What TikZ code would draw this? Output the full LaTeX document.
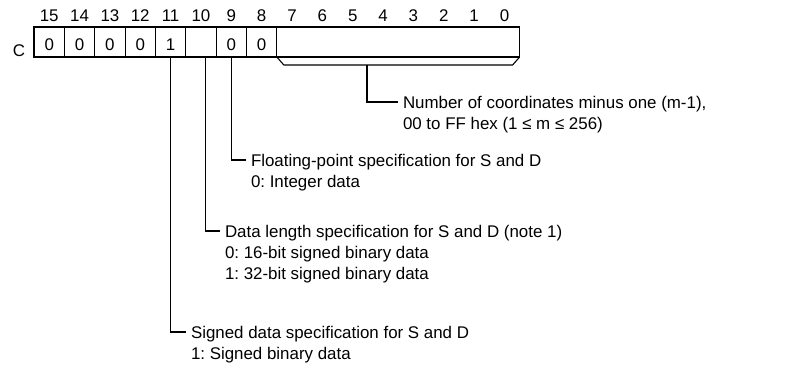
\documentclass[tikz,border=0pt]{standalone}
\usepackage{fontspec}
\setmainfont{Liberation Sans}
\frenchspacing
\usetikzlibrary{positioning}

\begin{document}
\begin{tikzpicture}[x=1pt,y=-1pt,
  every node/.style={font=\fontsize{16.9}{22}\selectfont,inner sep=0pt,outer sep=0pt},
  cell/.style={draw,line width=.9pt,minimum width=30.35pt,minimum height=30pt,text height=16.1pt,text depth=0pt},
  bitno/.style={text height=12.1pt,text depth=0pt},
  lbl/.style={anchor=west,inner xsep=5pt,text height=12.1pt,text depth=0pt},
  lead/.style={line width=1.1pt}]
\useasboundingbox (0,0) rectangle (789,372);
% word C
\node[cell] (b15) at (49.2,42) {0};
\node[cell,right=0pt of b15] (b14) {0};
\node[cell,right=0pt of b14] (b13) {0};
\node[cell,right=0pt of b13] (b12) {0};
\node[cell,right=0pt of b12] (b11) {1};
\node[cell,right=0pt of b11] (b10) {};
\node[cell,right=0pt of b10] (b9) {0};
\node[cell,right=0pt of b9] (b8) {0};
\node[cell,minimum width=242.8pt,right=0pt of b8] (blo) {};
\draw[line width=1.4pt] (b15.north west) rectangle (blo.south east);
\node[bitno,anchor=south east] (rc) at ([xshift=-9pt,yshift=1pt]b15.south west) {C};
% bit numbers
\node[bitno,above=6pt of b15] (n15) {15};
\node[bitno,above=6pt of b14] (n14) {14};
\node[bitno,above=6pt of b13] (n13) {13};
\node[bitno,above=6pt of b12] (n12) {12};
\node[bitno,above=6pt of b11] (n11) {11};
\node[bitno,above=6pt of b10] (n10) {10};
\node[bitno,above=6pt of b9] (n9) {9};
\node[bitno,above=6pt of b8] (n8) {8};
\node[bitno] (n7) at (292,15) {7};
\node[bitno] (n6) at (322.4,15) {6};
\node[bitno] (n5) at (352.7,15) {5};
\node[bitno] (n4) at (383.1,15) {4};
\node[bitno] (n3) at (413.4,15) {3};
\node[bitno] (n2) at (443.8,15) {2};
\node[bitno] (n1) at (474.1,15) {1};
\node[bitno] (n0) at (504.5,15) {0};
% bracket under bits 7 to 0
\draw[line width=1.1pt] (blo.south west) -- ++(7,8) -- ([xshift=-7pt,yshift=-8pt]blo.south east) -- (blo.south east);
\coordinate (brk) at ([xshift=-31.2pt,yshift=-8pt]blo.south);
% labels
\node[lbl] (num) at (398,102) {Number of coordinates minus one (m-1),};
\node[lbl,below right=8.9pt and 0pt of num.south west] (num2) {00 to FF hex (1 ≤ m ≤ 256)};
\node[lbl] (flt) at (246,160) {Floating-point specification for S and D};
\node[lbl,below right=8.9pt and 0pt of flt.south west] (flt2) {0: Integer data};
\node[lbl] (dln) at (220,231) {Data length specification for S and D (note 1)};
\node[lbl,below right=8.9pt and 0pt of dln.south west] (dln2) {0: 16-bit signed binary data};
\node[lbl,below right=8.9pt and 0pt of dln2.south west] (dln3) {1: 32-bit signed binary data};
\node[lbl] (sgn) at (186,332) {Signed data specification for S and D};
\node[lbl,below right=8.9pt and 0pt of sgn.south west] (sgn2) {1: Signed binary data};
% leaders
\draw[lead] (brk) |- (num.west);
\draw[lead] (b9.south) |- (flt.west);
\draw[lead] ([xshift=4.3pt]b10.south) |- (dln.west);
\draw[lead] (b11.south) |- (sgn.west);

\end{tikzpicture}
\end{document}
